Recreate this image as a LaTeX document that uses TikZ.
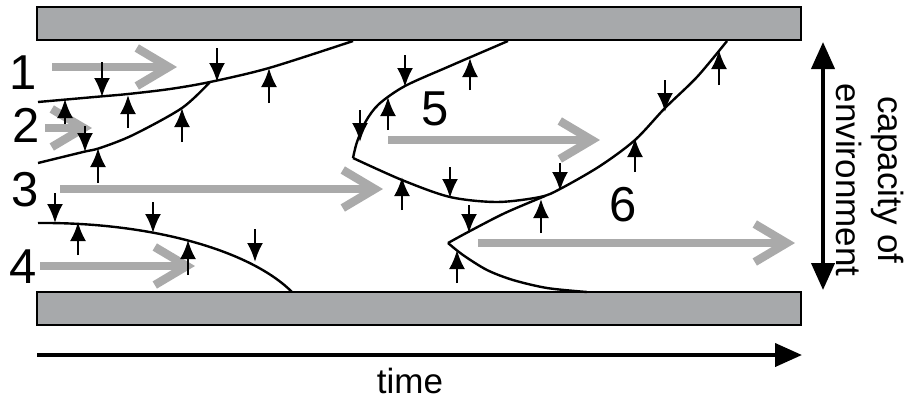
\documentclass[tikz,border=0pt]{standalone}
\usepackage{fontspec}
\setmainfont{Liberation Sans}
\usepackage{tikz}
\usetikzlibrary{arrows.meta}
\definecolor{bargrey}{RGB}{167,169,171}
\definecolor{flowgrey}{RGB}{170,170,170}
\tikzstyle{limit}=[draw=black,line width=1pt,fill=bargrey]
\tikzstyle{bound}=[line width=1.2pt]
\tikzstyle{flow}=[draw=flowgrey,line width=4.2pt,-{Straight Barb[length=16pt,width=19pt]}]
\tikzstyle{press}=[line width=1.2pt,-{Latex[length=9.5pt,width=8pt]}]
\tikzstyle{axis}=[line width=2pt,>={Triangle[length=13.5pt,width=11.5pt]}]
\tikzstyle{num}=[font=\fontsize{24.5}{29}\selectfont,inner sep=0pt]
\tikzstyle{lab}=[font=\fontsize{17.5}{21}\selectfont,inner sep=0pt]

\begin{document}
\begin{tikzpicture}[x=0.5pt,y=-0.5pt]
\useasboundingbox (0,0) rectangle (904,398);
\draw[limit] (37,7) rectangle (801,40);
\draw[limit] (37,292) rectangle (801,325);

\coordinate (fork) at (210,82);
\coordinate (cusp5) at (353,158);
\coordinate (cusp6) at (448,243);
\coordinate (merge) at (545,196);

%boundaries
\draw[bound] plot[smooth] coordinates {(38,102) (100,96.5) (128,94) (170,89) (fork) (269,68) (353,41)};
\draw[bound] plot[smooth] coordinates {(38,163) (83,152) (100,148) (133,135) (182,108) (fork)};
\draw[bound] (38,223) .. controls (150,222) and (250,250) .. (292,292);
\draw[bound] plot[smooth] coordinates {(cusp5) (357,142) (366,121) (379,104) (405,86) (450,66) (508,41)};
\draw[bound] plot[smooth] coordinates {(cusp5) (402,180) (450,197) (497,202) (540,197) (560,189) (600,166) (635,140) (665,108) (697,77) (727,41)};
\draw[bound] plot[smooth] coordinates {(cusp6) (470,231) (505,213) (merge)};
\draw[bound] plot[smooth] coordinates {(cusp6) (463,255) (487,270) (513,280) (547,288) (587,292)};

%growth
\draw[flow] (52,67) -- (177,67);
\draw[flow] (45,128) -- (92,128);
\draw[flow] (60,189) -- (383,189);
\draw[flow] (40,266) -- (195,266);
\draw[flow] (388,140) -- (600,140);
\draw[flow] (478,243) -- (795,243);

%pressure on the boundaries
\draw[press] (102,62) -- (102,97);
\draw[press] (217,48) -- (217,82);
\draw[press] (269,103) -- (269,68);
\draw[press] (128,128) -- (128,95);
\draw[press] (65,124) -- (65,99);
\draw[press] (85,126) -- (85,152);
\draw[press] (98,183) -- (98,148);
\draw[press] (182,142) -- (182,108);

\draw[press] (55,193) -- (55,223);
\draw[press] (78,255) -- (78,222);
\draw[press] (153,202) -- (153,233);
\draw[press] (188,275) -- (188,240);
\draw[press] (255,229) -- (255,262);

\draw[press] (405,55) -- (405,87);
\draw[press] (388,130) -- (388,97);
\draw[press] (360,110) -- (360,142);
\draw[press] (470,90) -- (470,58);
\draw[press] (719,85) -- (719,50);
\draw[press] (665,80) -- (665,112);
\draw[press] (635,172) -- (635,138);
\draw[press] (560,163) -- (560,191);
\draw[press] (402,210) -- (402,177);
\draw[press] (450,167) -- (450,198);
\draw[press] (469,205) -- (469,233);
\draw[press] (541,233) -- (541,199);
\draw[press] (457,283) -- (457,250);

\node[num] (n1) at (23,72.5) {1};
\node[num] (n2) at (26,125) {2};
\node[num] (n3) at (25,190) {3};
\node[num] (n4) at (23,267) {4};
\node[num] (n5) at (435,108.5) {5};
\node[num] (n6) at (623.5,205) {6};

%axes
\coordinate (t0) at (37,355);
\coordinate (t1) at (802,355);
\coordinate (c0) at (823,42);
\coordinate (c1) at (823,290);
\draw[axis,->] (t0) -- (t1);
\draw[axis,<->] (c0) -- (c1);
\node[lab,anchor=base] (time) at (410,393) {time};
\node[lab,rotate=-90,align=center] (cap) at (870,180) {capacity of\\environment};
\end{tikzpicture}
\end{document}
